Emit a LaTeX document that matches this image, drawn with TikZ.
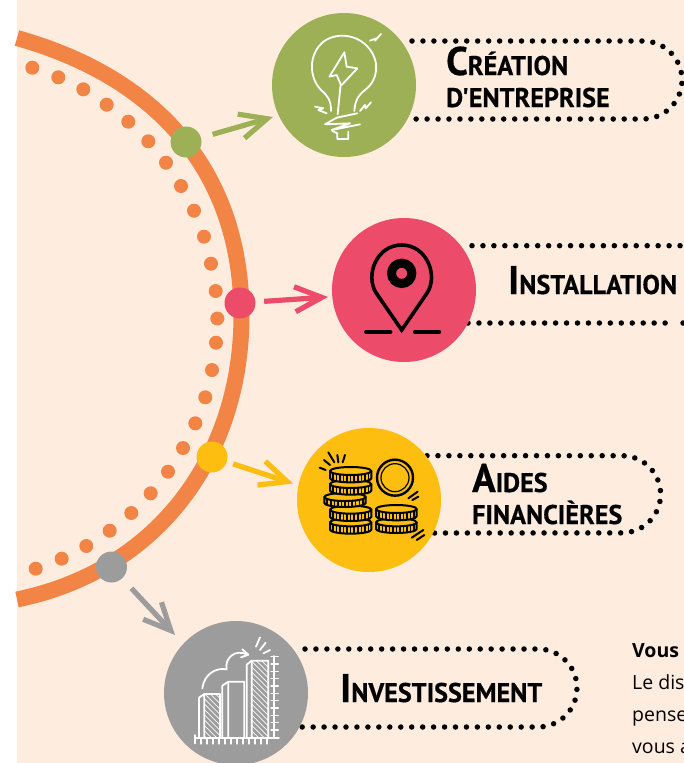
\documentclass[tikz,border=0pt]{standalone}
\usepackage{fontspec}
\usetikzlibrary{arrows.meta}
\newfontfamily\headfont[FakeStretch=0.97,BoldFeatures={FakeBold=0.5}]{PT Sans}
\newfontfamily\bodyfont{Open Sans}
\definecolor{paper}{HTML}{FEECDF}
\definecolor{ringorange}{HTML}{F28546}
\definecolor{leaf}{HTML}{9DB056}
\definecolor{rose}{HTML}{EC4C6A}
\definecolor{gold}{HTML}{FDBE0F}
\definecolor{stone}{HTML}{9C9C9C}
\newcommand{\bigini}[1]{{\fontsize{40}{32}\selectfont #1}}
% one coin: centre x, y of top face, half width, height of the edge
\newcommand{\coinedge}[4]{
  \fill[gold] (#1-#3,#2) -- (#1-#3,#2+#4) arc[start angle=180,end angle=360,x radius=#3,y radius=-12] -- (#1+#3,#2) arc[start angle=0,end angle=180,x radius=#3,y radius=-12] -- cycle;
  \begin{scope}
    \clip (#1-#3,#2) -- (#1-#3,#2+#4) arc[start angle=180,end angle=360,x radius=#3,y radius=-12] -- (#1+#3,#2) -- cycle;
    \foreach \k in {-5,...,5}
      \draw[coinline,line width=1.5pt] (#1+\k*#3/5.8,#2) -- ++(0,#4+12);
  \end{scope}
  \draw[coinline] (#1-#3,#2) -- (#1-#3,#2+#4) arc[start angle=180,end angle=360,x radius=#3,y radius=-12] -- (#1+#3,#2);
  \draw[coinline,fill=gold] (#1,#2) ellipse[x radius=#3,y radius=12];
}
\begin{document}
\begin{tikzpicture}[
  x=1pt, y=-1pt,
  disc/.style={circle, inner sep=0pt, minimum size=144pt},
  ringpoint/.style={circle, inner sep=0pt, minimum size=31pt},
  ringdot/.style={circle, fill=ringorange, inner sep=0pt, minimum size=14pt},
  pointer/.style={line width=5.2pt, shorten <=#1, -{Straight Barb[length=27pt,width=25pt,line width=5.2pt]}},
  pill/.style={line width=5.5pt, line cap=round, dash pattern=on 0pt off 10.95pt},
  heading/.style={font=\headfont\bfseries\fontsize{27}{32}\selectfont, inner sep=0pt, align=left, anchor=base west},
  iconwhite/.style={draw=white, line width=1.8pt, line join=round, line cap=round},
  coinline/.style={draw=black, line width=2pt, line join=round, line cap=round},
  pinline/.style={draw=black, line width=3.6pt, line join=miter},
  hatchline/.style={draw=white, line width=0.7pt}
]
\useasboundingbox (0,0) rectangle (684,763);
\fill[paper] (17,0) rectangle (684,763);

\draw[ringorange, line width=16pt] (17,38) .. controls (166,80) and (241.5,180) .. (241.5,315) .. controls (241.5,454) and (160,570) .. (17,599.5);

\foreach \i/\x/\y in {1/32.3/67.7, 2/58.3/77.3, 3/83.3/89.3, 4/106.7/104.7, 5/128.3/121.7, 6/148.3/141.3, 7/166/162.7, 8/181/186, 9/194/210.7, 10/204/236.7, 11/211/263.7, 12/215.7/291, 13/217.3/318.5, 14/216/342.7, 15/212/370, 16/205.3/397.3, 17/195.3/423.3, 18/183/448, 19/168/471.7, 20/150.7/493.3, 21/131.3/513, 22/109.7/530.7, 23/86.3/546, 24/61.7/558.7, 25/35.7/568.7}
  \node[ringdot] (dot\i) at (\x,\y) {};

% dotted outlines behind the discs
\draw[pill] (412,41) -- (643,41) arc[start angle=-90,end angle=90,radius=39] -- (408,119);
\draw[pill] (472,245.7) -- (686,245.7);
\draw[pill] (468,323) -- (673,323);
\draw[pill] (683,323) -- (686,323);
\draw[pill] (427,455.7) -- (622,455.7) arc[start angle=-90,end angle=90,radius=38.6] -- (433,533);
\draw[pill] (305,649) -- (538,649) arc[start angle=-90,end angle=90,radius=39] -- (301,727);

\node[disc, fill=leaf] (creation) at (344,85) {};
\node[disc, fill=rose] (installation) at (404,290) {};
\node[disc, fill=gold] (aides) at (369,500) {};
\node[disc, fill=stone] (invest) at (236,693) {};

\node[ringpoint, fill=leaf] (ptcreation) at (186,142) {};
\node[ringpoint, fill=rose] (ptinstall) at (240,303) {};
\node[ringpoint, fill=gold] (ptaides) at (212,457) {};
\node[ringpoint, fill=stone] (ptinvest) at (111.5,567) {};

\coordinate (tipcreation) at (273,117);
\coordinate (tipinstall) at (328,297);
\coordinate (tipaides) at (293,483.5);
\coordinate (tipinvest) at (175,635);
\draw[leaf, pointer=12pt] (ptcreation) -- (tipcreation);
\draw[rose, pointer=8.5pt] (ptinstall) -- (tipinstall);
\draw[gold, pointer=6.5pt] (ptaides) -- (tipaides);
\draw[stone, pointer=13.5pt] (ptinvest) -- (tipinvest);

\node[heading] (lblcreation) at (446,107) {\bigini{C}RÉATION\\D'ENTREPRISE};
\node[heading] (lblinstall) at (508,294) {\bigini{I}NSTALLATION};
\node[heading] (lblaides) at (472,524) {\bigini{A}IDES\\FINANCIÈRES};
\node[heading] (lblinvest) at (340,702) {\bigini{I}NVESTISSEMENT};

\node[font=\bodyfont\fontsize{19.5}{32}\selectfont, inner sep=0pt, align=left, anchor=north west] (bodytext) at (632,643) {\textbf{Vous a}\\Le dis\\pense\\vous a};

% bulb
\begin{scope}[shift={(295,25)}, scale=1/3]
  \draw[iconwhite] (108,258) .. controls (108,225) and (98,212) .. (78,195) .. controls (40,155) and (40,85) .. (88,48) .. controls (130,20) and (190,30) .. (222,70) .. controls (255,110) and (250,165) .. (210,195) .. controls (188,212) and (180,230) .. (178,258);
  \draw[iconwhite] (148,82) -- (103,155) -- (125,150) -- (137,178) -- (128,268);
  \draw[iconwhite] (148,82) -- (155,125) -- (187,130) -- (140,180);
  \draw[iconwhite] (187,265) -- (125,278) -- (90,298) -- (165,295) -- (110,315) -- (195,298);
  \draw[iconwhite] (112,318) -- (127,325) -- (127,342) -- (160,342) -- (160,320);
  \draw[iconwhite] (225,47) -- (245,40) -- (240,47) -- (258,27);
  \draw[iconwhite] (60,245) -- (85,250) -- (70,255) -- (95,265);
  \draw[iconwhite] (195,258) -- (210,240) -- (212,250) -- (228,232);
\end{scope}

% pin
\begin{scope}[shift={(320,210)}, scale=1/3]
  \draw[pinline] (245,360) -- (168,248) .. controls (135,195) and (170,105) .. (245,105) .. controls (320,105) and (355,195) .. (322,248) -- cycle;
  \draw[black, line width=9pt] (245,190) circle (30.5);
  \draw[pinline, line cap=round] (138,366) -- (212,366);
  \draw[pinline, line cap=round] (284,366) -- (358,366);
\end{scope}

% coins
\begin{scope}[shift={(315,445)}, scale=1/3]
  \coinedge{107}{232}{62}{22}
  \coinedge{107}{194}{62}{22}
  \coinedge{90}{156}{62}{18}
  \coinedge{107}{117}{62}{20}
  \coinedge{107}{78}{62}{22}
  \coinedge{244}{232}{61}{20}
  \coinedge{244}{192}{61}{22}
  \draw[coinline, line width=2.4pt] (240,98) circle (54);
  \draw[coinline, line width=1.2pt] (240,98) circle (42);
  \foreach \a/\b/\c/\d in {280/160/308/140, 292/165/310/155, 290/278/325/255, 305/285/328/270, 40/22/58/52, 67/30/70/52, 90/30/83/52, 27/45/45/60, 14/68/32/75}
    \draw[coinline] (\a,\b) -- (\c,\d);
\end{scope}

% chart
\begin{scope}[shift={(185,630)}, scale=1/3]
  \begin{scope}
    \clip (58,192) rectangle (105,325);
    \foreach \h in {0,16,...,320}
      \draw[hatchline] (58,\h+30) -- (105,\h+77);
  \end{scope}
  \begin{scope}
    \clip (200,92) rectangle (250,325);
    \foreach \h in {0,16,...,320}
      \draw[hatchline] (200,\h+30) -- (250,\h+80);
  \end{scope}
  \draw[iconwhite, line cap=butt] (42,325) -- (42,203) -- (58,192) -- (105,192) -- (105,325) (58,192) -- (58,325);
  \draw[iconwhite, line cap=butt] (112,325) -- (112,167) -- (130,155) -- (178,155) -- (178,325) (130,155) -- (130,325);
  \draw[iconwhite, line cap=butt] (185,325) -- (185,104) -- (200,92) -- (250,92) -- (250,325) (200,92) -- (200,325);
  \draw[iconwhite] (268,78) -- (268,325);
  \foreach \t in {80,102,...,320}
    \draw[iconwhite, line width=1.2pt] (258,\t) -- (280,\t);
  \draw[iconwhite] (30,325) -- (282,325) (30,315) -- (30,340);
  \foreach \t in {48,66,...,250}
    \draw[iconwhite, line width=1.2pt] (\t,325) -- (\t,342);
  \draw[iconwhite] (52,175) .. controls (58,130) and (95,112) .. (125,118) .. controls (118,85) and (150,55) .. (188,74);
  \draw[iconwhite] (172,58) -- (190,74) -- (168,82);
  \draw[iconwhite] (213,50) -- (225,22) (225,60) -- (242,38) (235,70) -- (255,60);
\end{scope}
\end{tikzpicture}
\end{document}
